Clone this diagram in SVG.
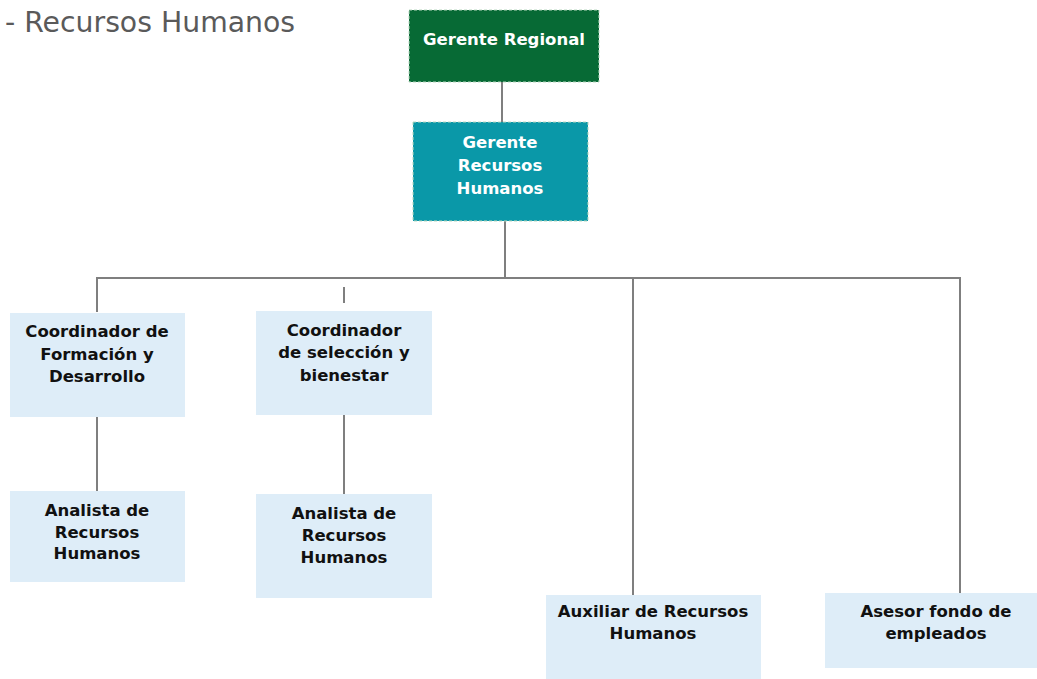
<svg xmlns="http://www.w3.org/2000/svg" width="1037" height="679" viewBox="0 0 1037 679">
<style>
.t{font-family:"DejaVu Sans","Verdana",sans-serif;font-weight:bold;font-size:16.5px;text-anchor:middle;}
.w{fill:#ffffff;}
.k{fill:#111111;}
.lb{fill:#deedf8;}
.dash{stroke:#b8d8c0;stroke-width:1;stroke-dasharray:3 2;}
.c line{stroke:#7f7f7f;stroke-width:2;}
</style>
<rect width="1037" height="679" fill="#ffffff"/>
<text x="5" y="32" font-family="'DejaVu Sans',Verdana,sans-serif" font-size="28.3" fill="#5a5a5a">- Recursos Humanos</text>
<g class="c" id="connectors">
<line x1="502" y1="82" x2="502" y2="122"/>
<line x1="505" y1="221" x2="505" y2="278"/>
<line x1="96" y1="278" x2="961" y2="278"/>
<line x1="97" y1="277" x2="97" y2="312"/>
<line x1="344" y1="287" x2="344" y2="303"/>
<line x1="633" y1="277" x2="633" y2="596"/>
<line x1="960" y1="277" x2="960" y2="594"/>
<line x1="97" y1="410" x2="97" y2="491"/>
<line x1="344" y1="408" x2="344" y2="494"/>
</g>
<g id="gerente-regional">
<rect x="409" y="10" width="190" height="72" fill="#076a35" class="dash"/>
<text class="t w" x="504" y="45">Gerente Regional</text>
</g>
<g id="gerente-rh">
<rect x="413" y="122" width="175" height="99" fill="#0a98a8" class="dash" stroke="#7fc8d0"/>
<text class="t w" x="500" y="148">Gerente</text>
<text class="t w" x="500" y="171">Recursos</text>
<text class="t w" x="500" y="194">Humanos</text>
</g>
<g id="coord-formacion">
<rect x="10" y="313" width="175" height="104" class="lb"/>
<text class="t k" x="97" y="337">Coordinador de</text>
<text class="t k" x="97" y="360">Formación y</text>
<text class="t k" x="97" y="382">Desarrollo</text>
</g>
<g id="coord-seleccion">
<rect x="256" y="311" width="176" height="104" class="lb"/>
<text class="t k" x="344" y="336">Coordinador</text>
<text class="t k" x="344" y="358">de selección y</text>
<text class="t k" x="344" y="381">bienestar</text>
</g>
<g id="analista-1">
<rect x="10" y="491" width="175" height="91" class="lb"/>
<text class="t k" x="97" y="516">Analista de</text>
<text class="t k" x="97" y="538">Recursos</text>
<text class="t k" x="97" y="559">Humanos</text>
</g>
<g id="analista-2">
<rect x="256" y="494" width="176" height="104" class="lb"/>
<text class="t k" x="344" y="519">Analista de</text>
<text class="t k" x="344" y="541">Recursos</text>
<text class="t k" x="344" y="563">Humanos</text>
</g>
<g id="auxiliar">
<rect x="546" y="595" width="215" height="84" class="lb"/>
<text class="t k" x="653" y="617">Auxiliar de Recursos</text>
<text class="t k" x="653" y="639">Humanos</text>
</g>
<g id="asesor">
<rect x="825" y="593" width="212" height="75" class="lb"/>
<text class="t k" x="936" y="617">Asesor fondo de</text>
<text class="t k" x="936" y="639">empleados</text>
</g>
</svg>
